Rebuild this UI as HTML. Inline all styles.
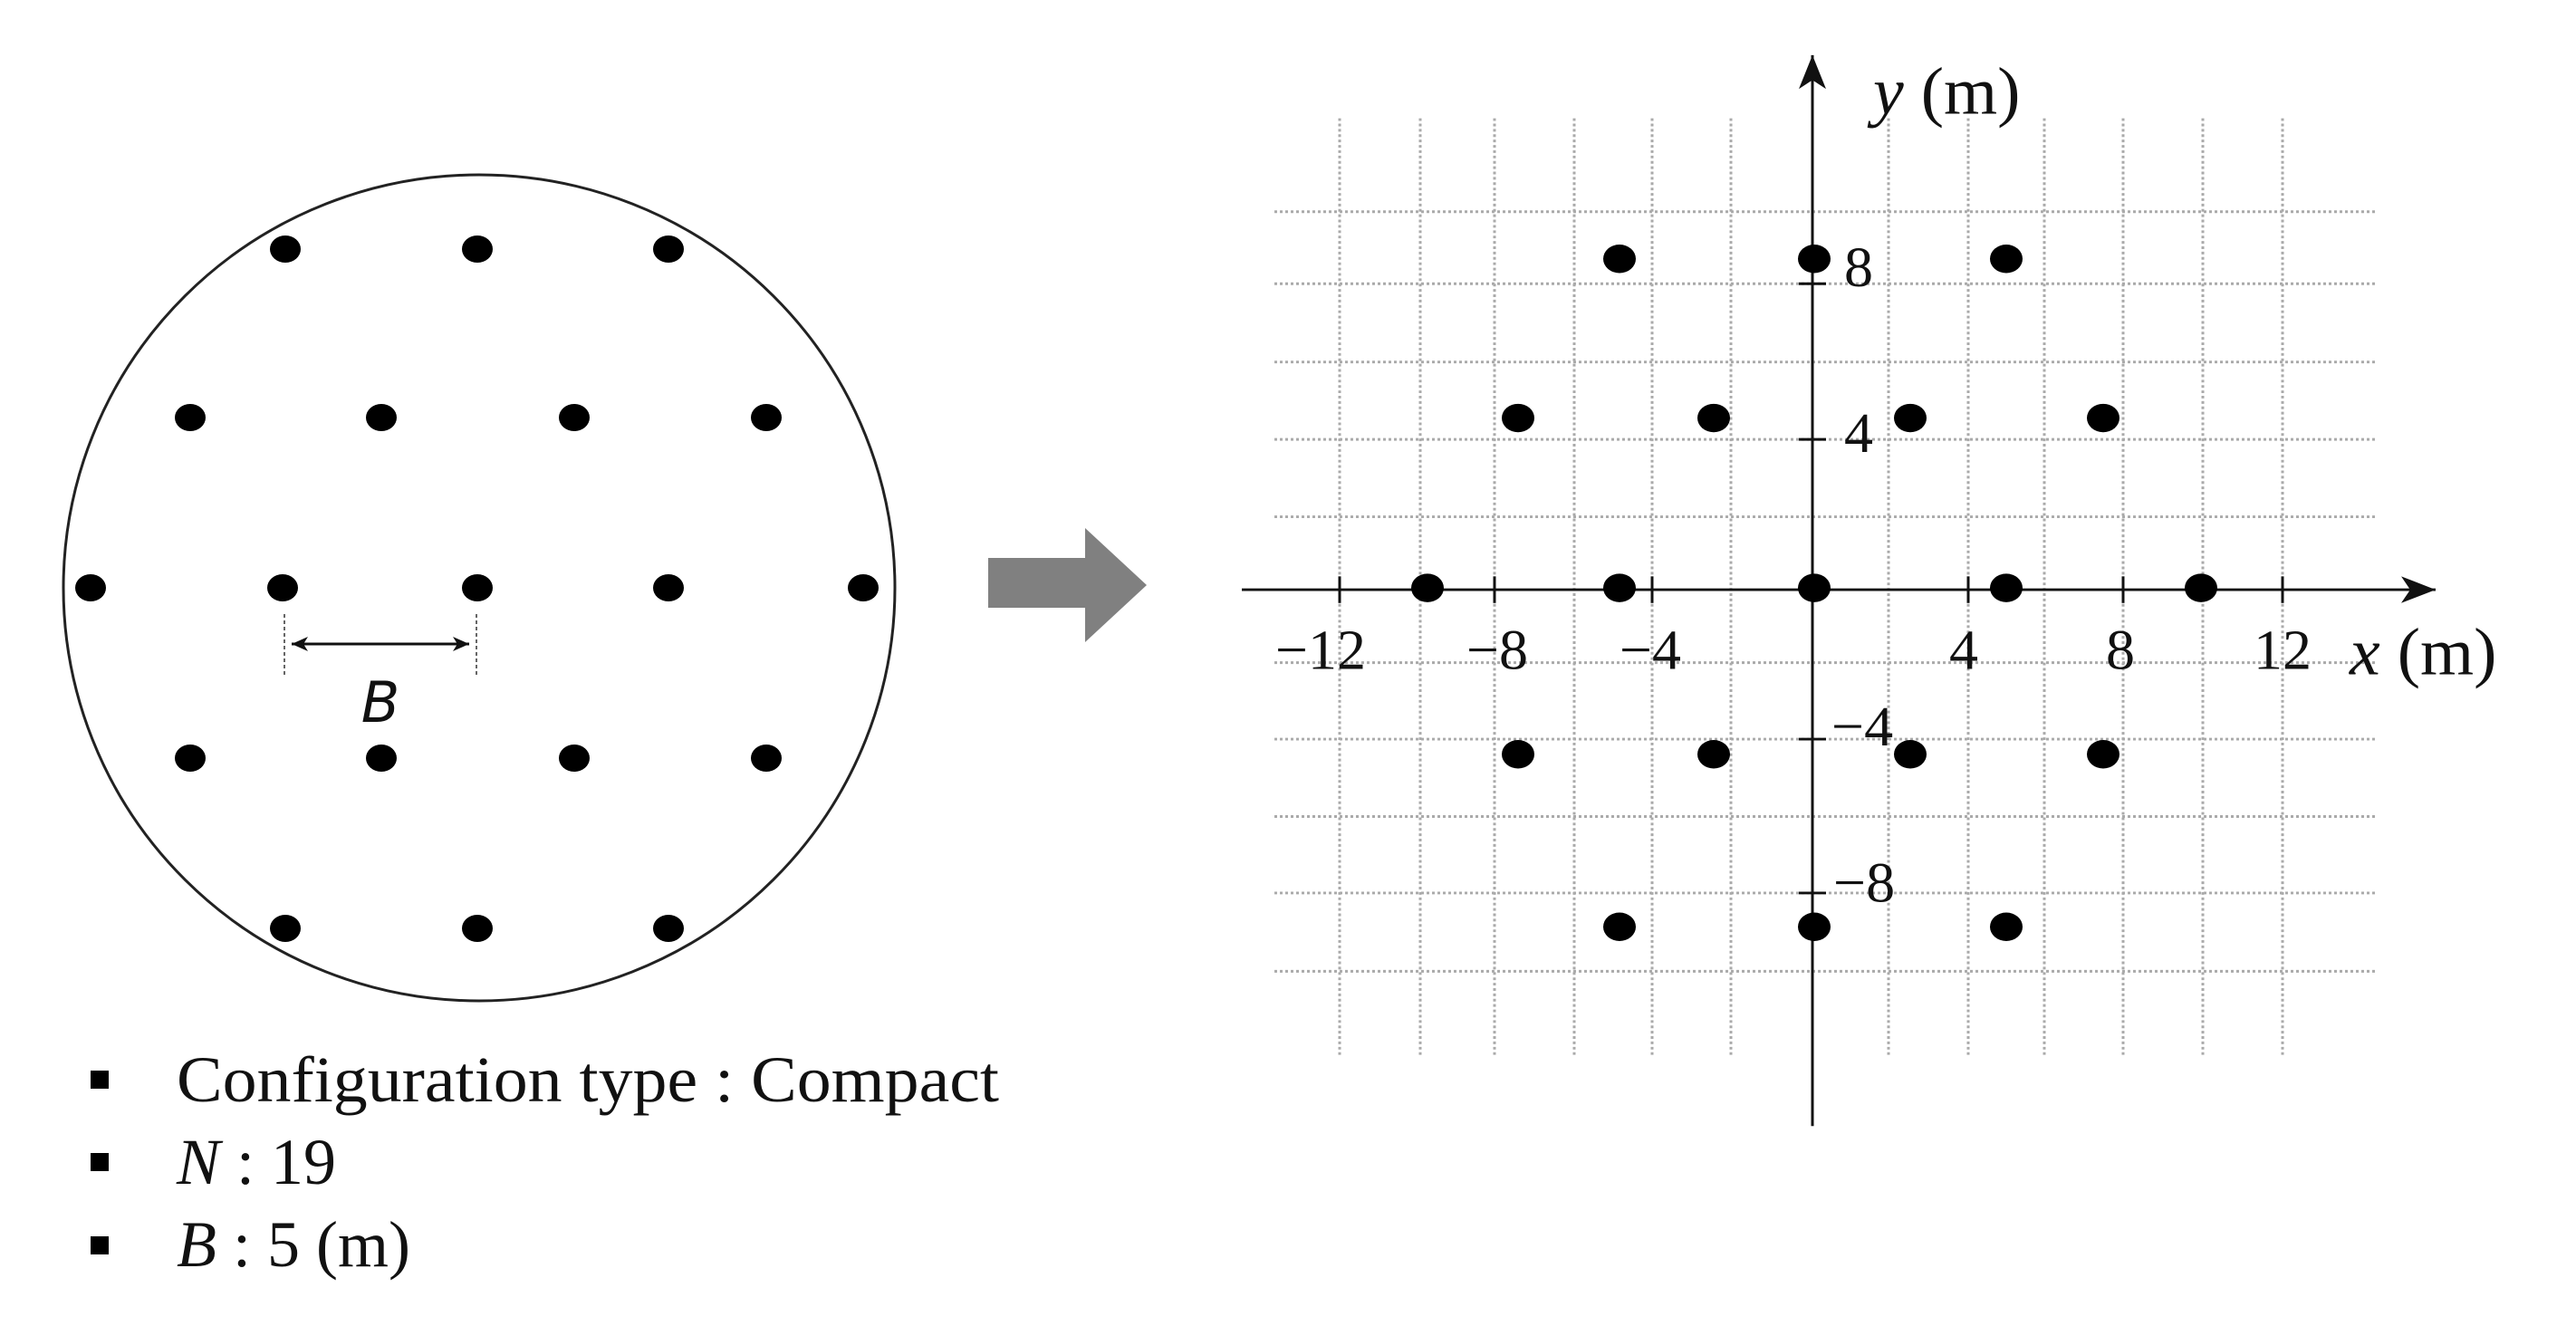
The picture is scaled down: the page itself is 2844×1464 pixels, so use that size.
<!DOCTYPE html>
<html><head><meta charset="utf-8"><style>
html,body{margin:0;padding:0;background:#fff;}
svg{display:block;}
text{font-family:"Liberation Serif",serif;fill:#111;}
</style></head><body>
<svg width="2844" height="1464" viewBox="0 0 2844 1464" xmlns="http://www.w3.org/2000/svg">
<defs>
<marker id="ah2" markerWidth="40" markerHeight="30" refX="38" refY="15" orient="auto" markerUnits="userSpaceOnUse">
<path d="M0,0 L38,15 L0,30 L10,15 Z" fill="#111"/></marker>
<marker id="sa" markerWidth="20" markerHeight="16" refX="18" refY="8" orient="auto" markerUnits="userSpaceOnUse">
<path d="M0,0 L18,8 L0,16 L5,8 Z" fill="#111"/></marker>
</defs>
<ellipse cx="529" cy="649" rx="459" ry="456" fill="none" stroke="#222" stroke-width="3"/>
<g fill="#000">
<ellipse cx="315" cy="275" rx="17" ry="15"/><ellipse cx="527" cy="275" rx="17" ry="15"/><ellipse cx="738" cy="275" rx="17" ry="15"/>
<ellipse cx="210" cy="461" rx="17" ry="15"/><ellipse cx="421" cy="461" rx="17" ry="15"/><ellipse cx="634" cy="461" rx="17" ry="15"/><ellipse cx="846" cy="461" rx="17" ry="15"/>
<ellipse cx="100" cy="649" rx="17" ry="15"/><ellipse cx="312" cy="649" rx="17" ry="15"/><ellipse cx="527" cy="649" rx="17" ry="15"/><ellipse cx="738" cy="649" rx="17" ry="15"/><ellipse cx="953" cy="649" rx="17" ry="15"/>
<ellipse cx="210" cy="837" rx="17" ry="15"/><ellipse cx="421" cy="837" rx="17" ry="15"/><ellipse cx="634" cy="837" rx="17" ry="15"/><ellipse cx="846" cy="837" rx="17" ry="15"/>
<ellipse cx="315" cy="1025" rx="17" ry="15"/><ellipse cx="527" cy="1025" rx="17" ry="15"/><ellipse cx="738" cy="1025" rx="17" ry="15"/>
</g>
<line x1="314" y1="678" x2="314" y2="747" stroke="#333" stroke-width="1.5" stroke-dasharray="4,3"/>
<line x1="526" y1="678" x2="526" y2="747" stroke="#333" stroke-width="1.5" stroke-dasharray="4,3"/>
<line x1="420" y1="711" x2="322" y2="711" stroke="#111" stroke-width="3" marker-end="url(#sa)"/>
<line x1="420" y1="711" x2="518" y2="711" stroke="#111" stroke-width="3" marker-end="url(#sa)"/>
<text x="420" y="797" text-anchor="middle" style="font-family:'DejaVu Sans','Liberation Sans',sans-serif;font-style:italic" font-size="62">B</text>
<polygon points="1091,616 1198,616 1198,583 1266,646 1198,709 1198,671 1091,671" fill="#808080"/>
<rect x="100" y="1182" width="20" height="20" fill="#000"/>
<rect x="100" y="1273" width="20" height="20" fill="#000"/>
<rect x="100" y="1365" width="20" height="20" fill="#000"/>
<text x="195" y="1216" font-size="72" textLength="908" lengthAdjust="spacingAndGlyphs">Configuration type : Compact</text>
<text x="195" y="1307" font-size="72"><tspan font-style="italic">N</tspan> : 19</text>
<text x="195" y="1398" font-size="72"><tspan font-style="italic">B</tspan> : 5 (m)</text>
<g transform="scale(1,0.982)">
<g stroke="#aaa" stroke-width="3" stroke-dasharray="3,3">
<line x1="1479" y1="133" x2="1479" y2="1187"/><line x1="1568" y1="133" x2="1568" y2="1187"/><line x1="1650" y1="133" x2="1650" y2="1187"/><line x1="1738" y1="133" x2="1738" y2="1187"/><line x1="1824" y1="133" x2="1824" y2="1187"/><line x1="1911" y1="133" x2="1911" y2="1187"/><line x1="2085" y1="133" x2="2085" y2="1187"/><line x1="2173" y1="133" x2="2173" y2="1187"/><line x1="2257" y1="133" x2="2257" y2="1187"/><line x1="2344" y1="133" x2="2344" y2="1187"/><line x1="2432" y1="133" x2="2432" y2="1187"/><line x1="2520" y1="133" x2="2520" y2="1187"/>
<line x1="1407" y1="238" x2="2623" y2="238"/><line x1="1407" y1="319" x2="2623" y2="319"/><line x1="1407" y1="407" x2="2623" y2="407"/><line x1="1407" y1="494" x2="2623" y2="494"/><line x1="1407" y1="581" x2="2623" y2="581"/><line x1="1407" y1="745" x2="2623" y2="745"/><line x1="1407" y1="831" x2="2623" y2="831"/><line x1="1407" y1="918" x2="2623" y2="918"/><line x1="1407" y1="1004" x2="2623" y2="1004"/><line x1="1407" y1="1092" x2="2623" y2="1092"/>
</g>
<line x1="1371" y1="663" x2="2689" y2="663" stroke="#111" stroke-width="3" marker-end="url(#ah2)"/>
<line x1="2001" y1="1266" x2="2001" y2="62" stroke="#111" stroke-width="3" marker-end="url(#ah2)"/>
<g stroke="#111" stroke-width="3">
<line x1="1479" y1="648" x2="1479" y2="678"/><line x1="1650" y1="648" x2="1650" y2="678"/><line x1="1824" y1="648" x2="1824" y2="678"/><line x1="2173" y1="648" x2="2173" y2="678"/><line x1="2344" y1="648" x2="2344" y2="678"/><line x1="2520" y1="648" x2="2520" y2="678"/>
<line x1="1986" y1="319" x2="2016" y2="319"/><line x1="1986" y1="494" x2="2016" y2="494"/><line x1="1986" y1="831" x2="2016" y2="831"/><line x1="1986" y1="1004" x2="2016" y2="1004"/>
</g>
<g fill="#000">
<ellipse cx="1576" cy="661" rx="18" ry="16"/><ellipse cx="1788" cy="661" rx="18" ry="16"/><ellipse cx="2003" cy="661" rx="18" ry="16"/><ellipse cx="2215" cy="661" rx="18" ry="16"/><ellipse cx="2430" cy="661" rx="18" ry="16"/>
<ellipse cx="1676" cy="470" rx="18" ry="16"/><ellipse cx="1892" cy="470" rx="18" ry="16"/><ellipse cx="2109" cy="470" rx="18" ry="16"/><ellipse cx="2322" cy="470" rx="18" ry="16"/>
<ellipse cx="1676" cy="848" rx="18" ry="16"/><ellipse cx="1892" cy="848" rx="18" ry="16"/><ellipse cx="2109" cy="848" rx="18" ry="16"/><ellipse cx="2322" cy="848" rx="18" ry="16"/>
<ellipse cx="1788" cy="291" rx="18" ry="16"/><ellipse cx="2003" cy="291" rx="18" ry="16"/><ellipse cx="2215" cy="291" rx="18" ry="16"/>
<ellipse cx="1788" cy="1042" rx="18" ry="16"/><ellipse cx="2003" cy="1042" rx="18" ry="16"/><ellipse cx="2215" cy="1042" rx="18" ry="16"/>
</g>
<g font-size="64" text-anchor="middle">
<text x="1458" y="752">−12</text><text x="1653" y="752">−8</text><text x="1822" y="752">−4</text><text x="2168" y="752">4</text><text x="2341" y="752">8</text><text x="2520" y="752">12</text>
</g>
<g font-size="64">
<text x="2036" y="322">8</text><text x="2036" y="508">4</text><text x="2022" y="838">−4</text><text x="2024" y="1014">−8</text>
</g>
<text x="2594" y="758" font-size="76"><tspan font-style="italic">x</tspan> (m)</text>
<text x="2068" y="128" font-size="76"><tspan font-style="italic">y</tspan> (m)</text>
</g>
</svg>
</body></html>
